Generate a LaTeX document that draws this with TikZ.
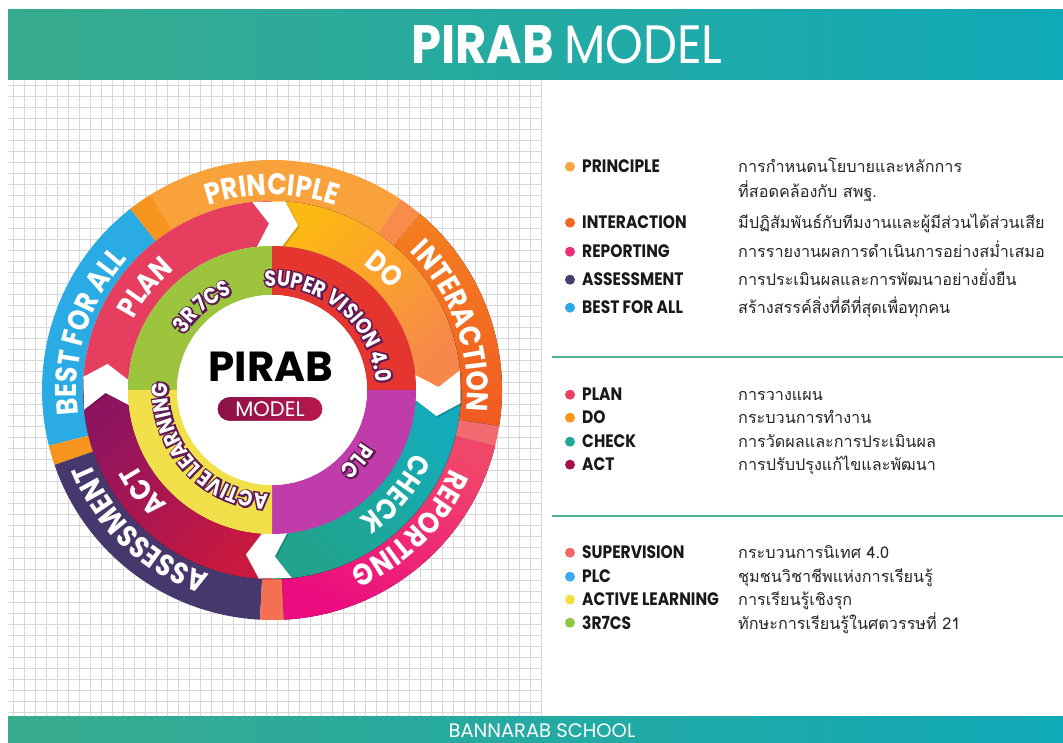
\documentclass[tikz,border=0pt]{standalone}
\usepackage{fontspec}
\setmainfont{Poppins}
\newfontfamily\popc{Poppins}[FakeStretch=0.86]
\newfontfamily\popo{Poppins}[FakeStretch=0.86,FakeBold=15]
\newfontfamily\popt{Poppins}[FakeStretch=0.89]
\newfontfamily\thaifont{Loma}[Script=Thai]
\usetikzlibrary{decorations.text}

\definecolor{hdA}{HTML}{38AB8E}
\definecolor{hdB}{HTML}{10A9B7}
\definecolor{gridc}{HTML}{D8D8D8}
\definecolor{cPrin}{HTML}{F9A13A}
\definecolor{cTabA}{HTML}{F7941D}
\definecolor{cInterA}{HTML}{F57F20}
\definecolor{cInterB}{HTML}{F15A22}
\definecolor{cTabB}{HTML}{F98C4B}
\definecolor{cRepA}{HTML}{F0466A}
\definecolor{cRepB}{HTML}{EC0C80}
\definecolor{cTabC}{HTML}{F26B70}
\definecolor{cAss}{HTML}{46376C}
\definecolor{cTabD}{HTML}{F37052}
\definecolor{cBest}{HTML}{2AABE3}
\definecolor{cPlan}{HTML}{E63E5E}
\definecolor{cDoA}{HTML}{FDB913}
\definecolor{cDoB}{HTML}{F7874B}
\definecolor{cChkA}{HTML}{22A38B}
\definecolor{cChkB}{HTML}{14ACBA}
\definecolor{cActA}{HTML}{8E1460}
\definecolor{cActB}{HTML}{C9193F}
\definecolor{cGreen}{HTML}{9CC43C}
\definecolor{cRed}{HTML}{E5352F}
\definecolor{cMag}{HTML}{C03CAA}
\definecolor{cYel}{HTML}{F2E04B}
\definecolor{plum}{HTML}{5E1A55}
\definecolor{pillA}{HTML}{8A1246}
\definecolor{pillB}{HTML}{B8184F}
\definecolor{divc}{HTML}{4FB295}
\definecolor{bPrin}{HTML}{F9A541}
\definecolor{bInter}{HTML}{F26A21}
\definecolor{bRep}{HTML}{EC2D7A}
\definecolor{bAss}{HTML}{4A3B6E}
\definecolor{bBest}{HTML}{2FA8E8}
\definecolor{bPlan}{HTML}{E8405F}
\definecolor{bDo}{HTML}{F7941D}
\definecolor{bChk}{HTML}{1FA89A}
\definecolor{bAct}{HTML}{A3134F}
\definecolor{bSup}{HTML}{F0686A}
\definecolor{bPlc}{HTML}{3FA9F5}
\definecolor{bAL}{HTML}{F5E044}
\definecolor{b3R}{HTML}{8DC63F}

\newcommand\outfnt{\popc\bfseries\fontsize{30}{34}\selectfont}
\newcommand\midfnt{\popc\bfseries\fontsize{29}{32}\selectfont}
\newcommand\innerfnt{\popc\bfseries\fontsize{22}{24}\selectfont}
\newcommand\innerfat{\popo\bfseries\fontsize{22}{24}\selectfont}

% annular sector: style, start angle, end angle, outer radius, inner radius
\newcommand\annul[5]{%
  \fill[#1] (#2:#4pt) arc[start angle=#2,end angle=#3,radius=#4pt]
    -- (#3:#5pt) arc[start angle=#3,end angle=#2,radius=#5pt] -- cycle;}

% white chevron across the middle ring, pointing clockwise
\newcommand\chev[1]{%
  \pgfmathsetmacro\cA{#1+6}\pgfmathsetmacro\cB{#1+1}%
  \pgfmathsetmacro\cC{#1-4}\pgfmathsetmacro\cD{#1-9}%
  \fill[black,opacity=0.15] ([shift={(1.5pt,-1.5pt)}]\cA:189pt) -- ([shift={(1.5pt,-1.5pt)}]\cB:166.5pt)
     -- ([shift={(1.5pt,-1.5pt)}]\cA:144pt) -- ([shift={(1.5pt,-1.5pt)}]\cC:144pt)
     -- ([shift={(1.5pt,-1.5pt)}]\cD:166.5pt) -- ([shift={(1.5pt,-1.5pt)}]\cC:189pt) -- cycle;
  \fill[white] (\cA:189pt) -- (\cB:166.5pt) -- (\cA:144pt) -- (\cC:144pt)
     -- (\cD:166.5pt) -- (\cC:189pt) -- cycle;}

% text on a clockwise arc: format, colour, text, centre angle, radius, half span
\newcommand\arctext[6]{%
  \pgfmathsetmacro\tS{#4+#6}\pgfmathsetmacro\tE{#4-#6}\pgfmathsetmacro\tR{#5}%
  \path[decorate,decoration={text along path,text color=#2,text={|#1|#3},text align=center}]
    (\tS:\tR pt) arc[start angle=\tS,end angle=\tE,radius=\tR pt];}

% white text with plum outline on the inner ring
\newcommand\innertext[2]{%
  \arctext{\innerfat}{plum}{#1}{#2}{104}{70}%
  \arctext{\innerfnt}{white}{#1}{#2}{104}{70}}

% key row: name, bullet colour, label, thai text, baseline y
\newcommand\keyrow[5]{%
  \node[bulletdot,fill=#2] (#1b) at (570,#5+6.3) {};
  \node[keylbl] (#1l) at (582,#5) {#3};
  \node[thaitxt] (#1t) at (738,#5) {#4};}

\begin{document}
\begin{tikzpicture}[x=1pt,y=1pt,
  gridline/.style={draw=gridc,line width=0.9pt},
  bulletdot/.style={circle,inner sep=0pt,minimum size=10pt},
  keylbl/.style={anchor=base west,inner sep=0pt,font=\popc\bfseries\fontsize{18}{20}\selectfont,text=black!90},
  thaitxt/.style={anchor=base west,inner sep=0pt,font=\thaifont\fontsize{16.2}{20}\selectfont,text=black!85},
  divline/.style={draw=divc,line width=2pt}]
\useasboundingbox (0,0) rectangle (1063,742);
\fill[white] (0,0) rectangle (1063,742);

% grid paper
\foreach \k in {0,...,48} \draw[gridline] ({13.3+11*\k},26) -- ({13.3+11*\k},662);
\foreach \k in {0,...,57} \draw[gridline] (8,{656.3-11*\k}) -- (542,{656.3-11*\k});

% header and footer bands
\fill[left color=hdA,right color=hdB] (8,662) rectangle (1063,732);
\fill[left color=hdA,right color=hdB] (8,0) rectangle (1063,26);
\node[font=\popt\fontsize{54}{58}\selectfont,text=white,inner sep=0pt] (title) at (567,697) {\bfseries PIRAB \mdseries MODEL};
\node[font=\fontsize{19.5}{20}\selectfont,text=white,inner sep=0pt] (footer) at (542,11.5) {BANNARAB SCHOOL};

% the wheel
\begin{scope}[shift={(272,352)}]
  % outer ring
  \annul{cBest}{128}{194}{230}{189}
  \annul{cTabA}{194}{199}{230}{189}
  \annul{cAss}{199}{267}{230}{189}
  \annul{cTabD}{267}{273}{230}{189}
  \annul{top color=cRepA,bottom color=cRepB,shading angle=-30}{273}{346}{230}{189}
  \annul{cTabC}{346}{351}{230}{189}
  \annul{top color=cInterA,bottom color=cInterB}{351}{410}{230}{189}
  \annul{cTabB}{50}{56}{230}{189}
  \annul{cPrin}{56}{122}{230}{189}
  \annul{cTabA}{122}{128}{230}{189}
  % middle ring
  \annul{cPlan}{90}{180}{189}{144}
  \annul{top color=cDoA,bottom color=cDoB,shading angle=45}{0}{90}{189}{144}
  \annul{top color=cChkB,bottom color=cChkA,shading angle=-45}{-90}{0}{189}{144}
  \annul{top color=cActA,bottom color=cActB,shading angle=45}{180}{270}{189}{144}
  \chev{90}\chev{0}\chev{270}\chev{180}
  % inner ring
  \annul{cGreen}{90}{180}{144}{95}
  \annul{cRed}{0}{90}{144}{95}
  \annul{cMag}{-90}{0}{144}{95}
  \annul{cYel}{180}{270}{144}{95}
  \fill[white] (0,0) circle[radius=95pt];
  % outer labels
  \arctext{\outfnt}{white}{PRINCIPLE}{90}{195}{45}
  \arctext{\outfnt}{white}{INTERACTION}{19.5}{195}{45}
  \arctext{\outfnt}{white}{REPORTING}{-45}{195}{45}
  \arctext{\outfnt}{white}{ASSESSMENT}{226.5}{195}{45}
  \arctext{\outfnt}{white}{BEST FOR ALL}{162.5}{195}{45}
  % middle labels
  \arctext{\midfnt}{white}{PLAN}{141}{155}{40}
  \arctext{\midfnt}{white}{DO}{47}{155}{40}
  \arctext{\midfnt}{white}{CHECK}{-40}{155}{40}
  \arctext{\midfnt}{white}{ACT}{218}{155}{40}
  % inner labels
  \innertext{3R 7CS}{130}
  \innertext{SUPER VISION 4.0}{49}
  \innertext{PLC}{-40}
  \innertext{ACTIVE LEARNING}{222}
\end{scope}

% centre
\node[font=\bfseries\fontsize{42}{46}\selectfont,text=black] (pirab) at (271,375) {PIRAB};
\node[draw=white,line width=1pt,rounded corners=12.5pt,minimum width=106pt,minimum height=25pt,
      left color=pillA,right color=pillB,inner sep=0pt] (pill) at (270,333) {};
\node[font=\fontsize{21}{22}\selectfont,text=white] (model) at (pill.center) {MODEL};

% key
\keyrow{prin}{bPrin}{PRINCIPLE}{การกำหนดนโยบายและหลักการ}{569}
\node[thaitxt] (prin2) at (738,544) {ที่สอดคล้องกับ สพฐ.};
\keyrow{inter}{bInter}{INTERACTION}{มีปฏิสัมพันธ์กับทีมงานและผู้มีส่วนได้ส่วนเสีย}{513}
\keyrow{rep}{bRep}{REPORTING}{การรายงานผลการดำเนินการอย่างสม่ำเสมอ}{484}
\keyrow{ass}{bAss}{ASSESSMENT}{การประเมินผลและการพัฒนาอย่างยั่งยืน}{456}
\keyrow{best}{bBest}{BEST FOR ALL}{สร้างสรรค์สิ่งที่ดีที่สุดเพื่อทุกคน}{428}
\coordinate (d1a) at (552,385); \coordinate (d1b) at (1063,385);
\draw[divline] (d1a) -- (d1b);
\keyrow{plan}{bPlan}{PLAN}{การวางแผน}{341}
\keyrow{do}{bDo}{DO}{กระบวนการทำงาน}{318}
\keyrow{chk}{bChk}{CHECK}{การวัดผลและการประเมินผล}{294}
\keyrow{act}{bAct}{ACT}{การปรับปรุงแก้ไขและพัฒนา}{271}
\coordinate (d2a) at (552,226); \coordinate (d2b) at (1063,226);
\draw[divline] (d2a) -- (d2b);
\keyrow{sup}{bSup}{SUPERVISION}{กระบวนการนิเทศ 4.0}{183}
\keyrow{plc}{bPlc}{PLC}{ชุมชนวิชาชีพแห่งการเรียนรู้}{159}
\keyrow{al}{bAL}{ACTIVE LEARNING}{การเรียนรู้เชิงรุก}{136}
\keyrow{tr}{b3R}{3R7CS}{ทักษะการเรียนรู้ในศตวรรษที่ 21}{113}
\end{tikzpicture}
\end{document}
